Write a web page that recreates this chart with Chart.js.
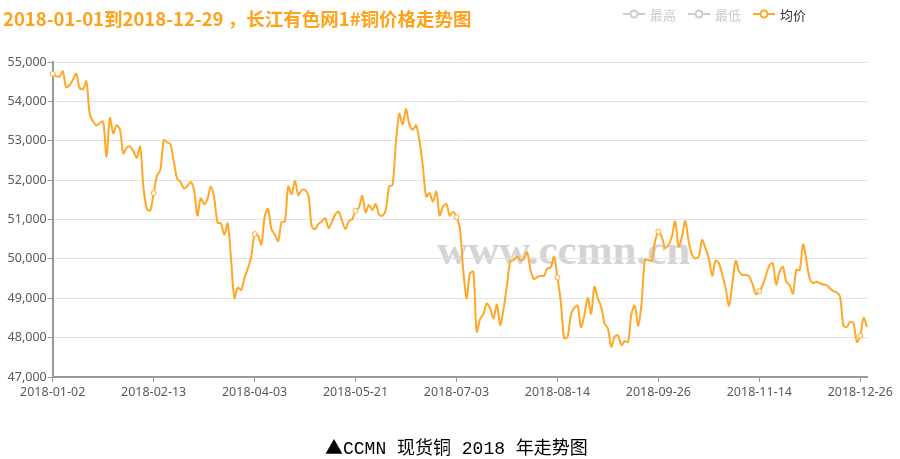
<!DOCTYPE html>
<html>
<head>
<meta charset="utf-8">
<script src="https://cdn.jsdelivr.net/npm/chart.js@4.4.1/dist/chart.umd.min.js"></script>
<style>
  html, body { margin: 0; padding: 0; background: #fff; }
  #wrap { position: relative; width: 900px; height: 459px; overflow: hidden; }
  #title {
    position: absolute; left: 3px; top: 5px; line-height: 19px;
    font: bold 18.5px "Noto Sans CJK SC", sans-serif; color: #FFA21A; white-space: nowrap;
  }
  #mark {
    position: absolute; left: 437px; top: 225px; line-height: 43px;
    font: bold 43px "Liberation Serif", serif; color: #d4d4d4; white-space: nowrap;
  }
  #chart { position: absolute; left: 0; top: 0; }
  #caption {
    position: absolute; left: 325px; top: 433px; line-height: 20px;
    font: 18px "Liberation Mono", "Noto Sans CJK SC", monospace; color: #000; white-space: nowrap;
  }
  #caption .tri { font-family: "Noto Sans CJK SC", sans-serif; }
</style>
</head>
<body>
<div id="wrap">
  <div id="mark">www.ccmn.cn</div>
  <canvas id="chart" width="900" height="459"></canvas>
  <div id="title">2018-01-01到2018-12-29 ，长江有色网1#铜价格走势图</div>
  <div id="caption"><span class="tri">▲</span>CCMN 现货铜 2018 年走势图</div>
</div>
<script>
// 长江有色网 1#铜 均价 2018 (元/吨), one value per trading day
const avgPrice = [
  54700, 54640, 54630, 54760, 54360, 54410, 54550, 54700, 54340, 54310,
  54510, 53680, 53490, 53390, 53450, 53490, 52600, 53580, 53190, 53390,
  53280, 52680, 52830, 52850, 52730, 52570, 52850, 51790, 51270, 51230,
  51670, 52120, 52260, 53020, 52960, 52910, 52470, 52030, 51950, 51790,
  51850, 51950, 51750, 51100, 51540, 51390, 51520, 51840, 51540, 50920,
  50900, 50610, 50900, 50010, 49000, 49270, 49210, 49520, 49760, 50060,
  50630, 50590, 50370, 51070, 51270, 50760, 50620, 50450, 50930, 50950,
  51840, 51640, 51980, 51620, 51750, 51750, 51610, 50820, 50760, 50890,
  50950, 51030, 50780, 50950, 51130, 51200, 50960, 50760, 50960, 51010,
  51220, 51300, 51600, 51180, 51370, 51240, 51390, 51120, 51100, 51240,
  51840, 51880, 52960, 53680, 53420, 53810, 53410, 53280, 53390, 53000,
  52350, 51580, 51670, 51450, 51710, 51100, 51330, 51390, 51100, 51200,
  51060, 50780, 49720, 49000, 49630, 49670, 48150, 48470, 48590, 48870,
  48740, 48490, 48840, 48320, 48740, 49330, 49930, 49970, 50060, 49970,
  50000, 50170, 49720, 49490, 49540, 49570, 49570, 49760, 49780, 50060,
  49530, 48910, 47990, 48020, 48570, 48760, 48810, 48270, 48570, 49010,
  48610, 49290, 49000, 48780, 48360, 48230, 47770, 48020, 48060, 47810,
  47910, 47890, 48610, 48810, 48300, 48870, 49970, 49970, 49950, 50440,
  50690, 50560, 50280, 50350, 50560, 50950, 50310, 50560, 50960, 50440,
  50110, 50010, 50060, 50480, 50270, 50010, 49570, 49950, 49890, 49590,
  49250, 48810, 49380, 49950, 49670, 49590, 49590, 49550, 49350, 49100,
  49180, 49330, 49590, 49840, 49890, 49350, 49670, 49800, 49420, 49330,
  49120, 49720, 49720, 50370, 49950, 49490, 49380, 49420, 49380, 49350,
  49330, 49250, 49180, 49150, 49040, 48300, 48270, 48400, 48360, 47890,
  48050, 48500, 48270
];

// dates shown on the x axis, every 30th trading day
const tickLabels = ['2018-01-02', '2018-02-13', '2018-04-03', '2018-05-21', '2018-07-03',
                    '2018-08-14', '2018-09-26', '2018-11-14', '2018-12-26'];
const tickEvery = 30;

const seriesNames = ['最高', '最低', '均价'];

const lineColor = '#FFA826';
const axisFont = { family: '"Noto Sans", sans-serif', size: 12.5 };

const dayIndex = avgPrice.map((v, i) => i);

// echarts-style legend: -o- icon + text, greyed when hidden
const topLegend = {
  id: 'topLegend',
  afterDraw(chart) {
    const ctx = chart.ctx;
    let x = 623;
    const y = 14;
    ctx.save();
    ctx.font = '13px "Noto Sans CJK SC", sans-serif';
    ctx.textBaseline = 'middle';
    chart.data.datasets.forEach(ds => {
      const on = !ds.hidden;
      const col = on ? lineColor : '#cccccc';
      ctx.strokeStyle = col;
      ctx.lineWidth = 2;
      ctx.beginPath();
      ctx.moveTo(x, y); ctx.lineTo(x + 7, y);
      ctx.moveTo(x + 15, y); ctx.lineTo(x + 22, y);
      ctx.stroke();
      ctx.beginPath();
      ctx.arc(x + 11, y, 3.5, 0, Math.PI * 2);
      ctx.fillStyle = '#fff';
      ctx.fill();
      ctx.stroke();
      ctx.fillStyle = on ? '#333' : '#cccccc';
      ctx.fillText(ds.label, x + 27, y + 1);
      x += 27 + ctx.measureText(ds.label).width + 12;
    });
    ctx.restore();
  }
};

new Chart(document.getElementById('chart'), {
  type: 'line',
  data: {
    labels: dayIndex,
    datasets: [
      { label: seriesNames[0], data: [], hidden: true, borderColor: '#ccc' },
      { label: seriesNames[1], data: [], hidden: true, borderColor: '#ccc' },
      {
        label: seriesNames[2],
        data: avgPrice,
        borderColor: lineColor,
        borderWidth: 2,
        tension: 0.3,
        fill: false,
        pointRadius: c => (c.dataIndex % tickEvery === 0 ? 2.5 : 0),
        pointBackgroundColor: '#fff',
        pointBorderColor: lineColor,
        pointBorderWidth: 1
      }
    ]
  },
  options: {
    responsive: false,
    animation: false,
    devicePixelRatio: 1,
    layout: { padding: { top: 62, right: 33, bottom: 52, left: 0 } },
    plugins: {
      legend: { display: false },
      title: { display: false },
      tooltip: { enabled: false }
    },
    scales: {
      x: {
        type: 'category',
        afterFit: s => { s.height = 30; },
        grid: {
          drawOnChartArea: false,
          drawTicks: true,
          tickLength: 5,
          color: '#999',
          lineWidth: 1
        },
        border: { display: true, color: '#999', width: 2 },
        ticks: {
          autoSkip: false,
          maxRotation: 0,
          minRotation: 0,
          padding: 3,
          color: '#595959',
          font: axisFont,
          callback: (v, i) => (i % tickEvery === 0 ? tickLabels[i / tickEvery] : null)
        }
      },
      y: {
        min: 47000,
        max: 55000,
        afterFit: s => { s.width = 52.7; },
        grid: {
          color: '#e2e2e2',
          lineWidth: 1,
          tickLength: 5,
          tickColor: '#999'
        },
        border: { display: true, color: '#999', width: 2 },
        ticks: {
          stepSize: 1000,
          padding: 1,
          color: '#595959',
          font: axisFont,
          callback: v => v.toLocaleString('en-US')
        }
      }
    }
  },
  plugins: [topLegend]
});
</script>
</body>
</html>
